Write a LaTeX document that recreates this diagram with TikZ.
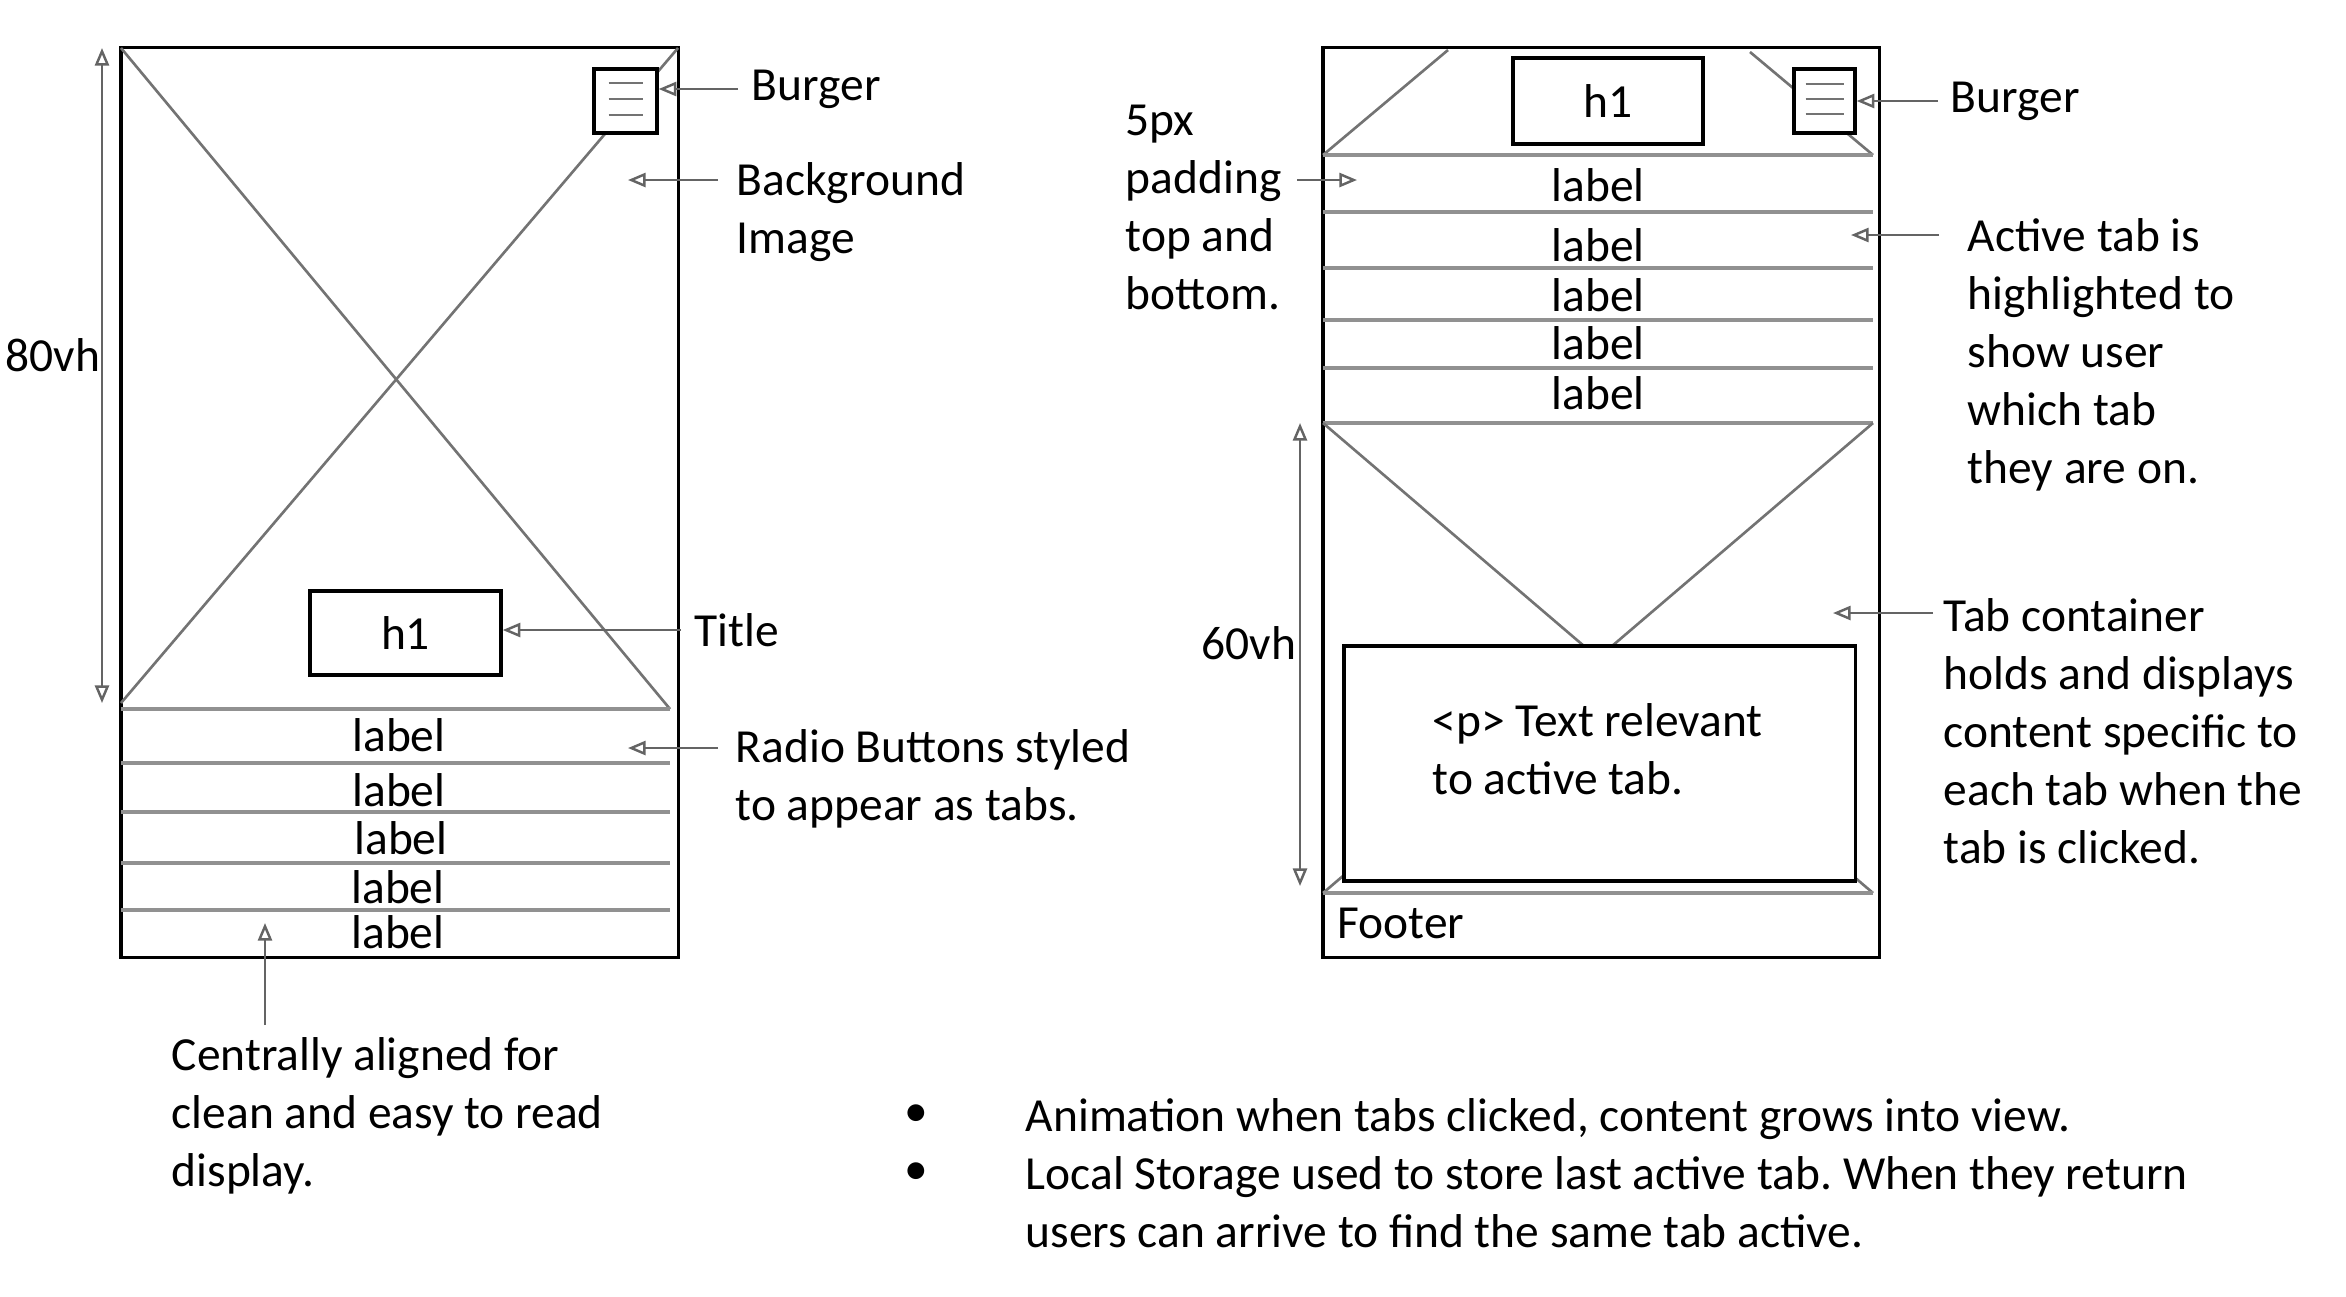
\documentclass[tikz,border=0pt]{standalone}
\usepackage{fontspec}
\setmainfont{Carlito}
\usetikzlibrary{arrows.meta}
\frenchspacing

\definecolor{lineGray}{RGB}{115,115,115}
\definecolor{tabGray}{RGB}{145,145,145}
\definecolor{noteGray}{RGB}{100,100,100}

\tikzset{
  frame/.style={rectangle, draw=black, line width=0.95pt, inner sep=0pt},
  cross/.style={draw=lineGray, line width=0.75pt},
  tabline/.style={draw=tabGray, line width=1.1pt},
  note/.style={draw=noteGray, line width=0.7pt, -{Triangle[open,length=5pt,width=4pt]}},
  dim/.style={draw=noteGray, line width=0.7pt, {Triangle[open,length=5pt,width=4pt]}-{Triangle[open,length=5pt,width=4pt]}},
  txt/.style={font=\fontsize{13.5}{16.5}\selectfont, inner sep=0pt, align=left},
  tab/.style={font=\fontsize{13.5}{16.5}\selectfont, inner sep=0pt},
}

\begin{document}
\begin{tikzpicture}[x=0.01cm, y=-0.01cm]
	\useasboundingbox (0,0) rectangle (2346,1296);

	% left page: background image and radio tabs
	\node[frame, minimum width=5.57cm, minimum height=9.09cm] (phoneL) at (399.5,502.5) {};
	\draw[cross] (121,48) -- (670,709);
	\draw[cross] (678,48) -- (121,703);
	\foreach \y in {709,763,812,863,910}
		\draw[tabline] (121,\y) -- (670,\y);
	\foreach \x/\y [count=\i] in {399/735, 399/790, 401/838, 398/887, 398/932}
		\node[tab] (labL\i) at (\x,\y) {label};
	\node[frame, fill=white, minimum width=1.91cm, minimum height=0.84cm, font=\fontsize{13.5}{16.5}\selectfont] (h1L) at (405.5,633) {h1};
	\node[frame, fill=white, minimum width=0.63cm, minimum height=0.64cm] (burgerL) at (625.5,101) {};
	\foreach \dy in {-18,-2,14}
		\draw[cross] ([shift={(-17,\dy)}]burgerL.center) -- ([shift={(17,\dy)}]burgerL.center);

	\node[txt, anchor=west] (burgerTxtL) at (751,89) {Burger};
	\draw[note] ([xshift=-0.13cm]burgerTxtL.west) -- (burgerL.east |- burgerTxtL.west);
	\node[txt, anchor=north west] (bgTxt) at (736,162) {Background\\Image};
	\coordinate (bgFrom) at (718,180);
	\coordinate (bgTo) at (628,180);
	\draw[note] (bgFrom) -- (bgTo);
	\node[txt, anchor=west] (titleTxt) at (694,630) {Title};
	\draw[note] ([xshift=-0.13cm]titleTxt.west) -- (h1L.east |- titleTxt.west);
	\node[txt, anchor=north west] (radioTxt) at (735,729) {Radio Buttons styled\\to appear as tabs.};
	\coordinate (radioFrom) at (718,748);
	\coordinate (radioTo) at (628,748);
	\draw[note] (radioFrom) -- (radioTo);

	\coordinate (vhTopL) at (102,48);
	\coordinate (vhBotL) at (102,703);
	\draw[dim] (vhTopL) -- (vhBotL);
	\node[txt] (vhL) at (53,355) {80vh};

	\node[txt, anchor=north west] (centreTxt) at (171,1037) {Centrally aligned for\\clean and easy to read\\display.};
	\coordinate (centreFrom) at (265,1025);
	\coordinate (centreTo) at (265,923);
	\draw[note] (centreFrom) -- (centreTo);

	% right page: tabs open with content
	\node[frame, minimum width=5.56cm, minimum height=9.09cm] (phoneR) at (1601,502.5) {};
	\draw[cross] (1323,155) -- (1448,50);
	\draw[cross] (1750,52) -- (1873,155);
	\foreach \y in {155,212,268,320,368,423}
		\draw[tabline] (1323,\y) -- (1873,\y);
	\foreach \y [count=\i] in {185,245,295,343,393}
		\node[tab] (labR\i) at (1598,\y) {label};
	\draw[cross] (1323,423) -- (1873,893);
	\draw[cross] (1873,423) -- (1323,893);
	\draw[tabline] (1323,893) -- (1873,893);
	\node[frame, fill=white, minimum width=5.11cm, minimum height=2.35cm] (content) at (1599.5,763.5) {};
	\node[txt, anchor=north west] (contentTxt) at (1432,703) {<p> Text relevant\\to active tab.};
	\node[frame, fill=white, minimum width=1.9cm, minimum height=0.86cm, font=\fontsize{13.5}{16.5}\selectfont] (h1R) at (1608,101) {h1};
	\node[frame, fill=white, minimum width=0.61cm, minimum height=0.64cm] (burgerR) at (1824.5,101) {};
	\foreach \dy in {-17,-2,13}
		\draw[cross] ([shift={(-19,\dy)}]burgerR.center) -- ([shift={(19,\dy)}]burgerR.center);
	\node[txt, anchor=west] (footer) at (1337,923) {Footer};

	\node[txt, anchor=west] (burgerTxtR) at (1950,101) {Burger};
	\draw[note] ([xshift=-0.12cm]burgerTxtR.west) -- (burgerR.east |- burgerTxtR.west);
	\node[txt, anchor=north west] (padTxt) at (1125,104) {5px\\padding\\top and\\bottom.};
	\coordinate (padFrom) at (1297,180);
	\coordinate (padTo) at (1357,180);
	\draw[note] (padFrom) -- (padTo);
	\node[txt, anchor=north west] (activeTxt) at (1967,218) {Active tab is\\highlighted to\\show user\\which tab\\they are on.};
	\coordinate (activeFrom) at (1939,235);
	\coordinate (activeTo) at (1851,235);
	\draw[note] (activeFrom) -- (activeTo);
	\node[txt, anchor=north west] (holderTxt) at (1943,598) {Tab container\\holds and displays\\content specific to\\each tab when the\\tab is clicked.};
	\coordinate (holderFrom) at (1933,613);
	\coordinate (holderTo) at (1833,613);
	\draw[note] (holderFrom) -- (holderTo);

	\coordinate (vhTopR) at (1300,423);
	\coordinate (vhBotR) at (1300,886);
	\draw[dim] (vhTopR) -- (vhBotR);
	\node[txt] (vhR) at (1249,643) {60vh};

	% notes under the pages
	\node[txt] (bul1) at (916,1116) {•};
	\node[txt] (bul2) at (916,1174) {•};
	\node[txt, anchor=north west] (notesTxt) at (1025,1098) {Animation when tabs clicked, content grows into view.\\Local Storage used to store last active tab. When they return\\users can arrive to find the same tab active.};
\end{tikzpicture}
\end{document}
